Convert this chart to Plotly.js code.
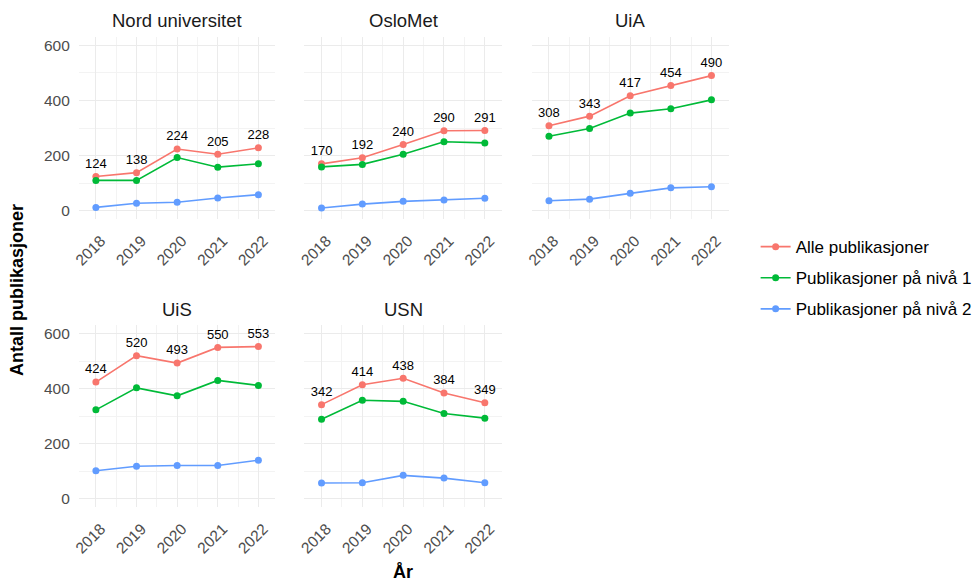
<!DOCTYPE html>
<html>
<head>
<meta charset="utf-8">
<script src="https://cdn.plot.ly/plotly-3.0.1.min.js"></script>
<style>html,body{margin:0;padding:0;background:#fff;}#chart{width:977px;height:583px;}</style>
</head>
<body>
<div id="chart"></div>
<script>
const years = [2018, 2019, 2020, 2021, 2022];
const institutions = ['Nord universitet', 'OsloMet', 'UiA', 'UiS', 'USN'];
const seriesNames = ['Alle publikasjoner', 'Publikasjoner på nivå 1', 'Publikasjoner på nivå 2'];
const seriesColors = ['#F8766D', '#00BA38', '#619CFF'];
const yTicks = [0, 200, 400, 600];

const nordAlle = [124, 138, 224, 205, 228];
const nordNiva1 = [110, 110, 193, 158, 170];
const nordNiva2 = [12, 27, 31, 46, 58];

const oslometAlle = [170, 192, 240, 290, 291];
const oslometNiva1 = [159, 168, 205, 250, 246];
const oslometNiva2 = [10, 24, 34, 39, 45];

const uiaAlle = [308, 343, 417, 454, 490];
const uiaNiva1 = [270, 298, 354, 370, 402];
const uiaNiva2 = [36, 42, 63, 83, 87];

const uisAlle = [424, 520, 493, 550, 553];
const uisNiva1 = [323, 403, 374, 430, 412];
const uisNiva2 = [102, 118, 121, 121, 140];

const usnAlle = [342, 414, 438, 384, 349];
const usnNiva1 = [289, 358, 354, 310, 293];
const usnNiva2 = [57, 58, 85, 75, 58];

const panelData = [
  [nordAlle, nordNiva1, nordNiva2],
  [oslometAlle, oslometNiva1, oslometNiva2],
  [uiaAlle, uiaNiva1, uiaNiva2],
  [uisAlle, uisNiva1, uisNiva2],
  [usnAlle, usnNiva1, usnNiva2]
];

const W = 977, H = 583;
const colPx = [[79, 276], [305, 503], [533, 730]];
const rowPx = [[37, 219], [325.4, 507]];
const FONT = 'Liberation Sans, Arial, Helvetica, sans-serif';

const traces = [];
const layout = {
  width: W, height: H,
  margin: {l: 0, r: 0, t: 0, b: 0},
  paper_bgcolor: '#ffffff', plot_bgcolor: '#ffffff',
  font: {family: FONT, color: '#4d4d4d'},
  showlegend: true,
  legend: {
    x: 0.775, y: 0.523, xanchor: 'left', yanchor: 'middle',
    font: {family: FONT, size: 17, color: '#000000'},
    tracegroupgap: 6, itemwidth: 30, bgcolor: 'rgba(0,0,0,0)'
  },
  annotations: [],
  shapes: []
};

institutions.forEach((name, i) => {
  const row = Math.floor(i / 3), col = i % 3;
  const sfx = i === 0 ? '' : String(i + 1);
  const xd = [colPx[col][0] / W, colPx[col][1] / W];
  const yd = [1 - rowPx[row][1] / H, 1 - rowPx[row][0] / H];
  layout['xaxis' + sfx] = {
    domain: xd, range: [2017.58, 2022.42], anchor: 'y' + sfx,
    tickmode: 'array', tickvals: years, ticktext: years.map(String),
    tickangle: -45, tickfont: {size: 15.5, color: '#4d4d4d', family: FONT},
    showgrid: true, gridcolor: '#ebebeb', gridwidth: 1,
    minor: {tick0: 2018.5, dtick: 1, showgrid: true, gridcolor: '#f3f3f3', gridwidth: 1},
    zeroline: false, showline: false, ticks: '',
    ticklabelstandoff: 9, ticklabelshift: 5,
    automargin: false, fixedrange: true
  };
  layout['yaxis' + sfx] = {
    domain: yd, range: [-30, 630], anchor: 'x' + sfx,
    tickmode: 'array', tickvals: yTicks, ticktext: yTicks.map(String),
    showticklabels: col === 0,
    tickfont: {size: 15.5, color: '#4d4d4d', family: FONT},
    showgrid: true, gridcolor: '#ebebeb', gridwidth: 1,
    minor: {tick0: 100, dtick: 200, showgrid: true, gridcolor: '#f3f3f3', gridwidth: 1},
    zeroline: false, showline: false, ticks: '', ticklabelstandoff: 8,
    automargin: false, fixedrange: true
  };
  layout.annotations.push({
    text: name, xref: 'paper', yref: 'paper',
    x: (colPx[col][0] + colPx[col][1]) / 2 / W,
    y: 1 - (row === 0 ? 20 : 309) / H,
    xanchor: 'center', yanchor: 'middle', showarrow: false,
    font: {family: FONT, size: 18.5, color: '#1a1a1a'}
  });
  panelData[i].forEach((vals, s) => {
    const t = {
      type: 'scatter', x: years, y: vals,
      xaxis: 'x' + sfx, yaxis: 'y' + sfx,
      name: seriesNames[s], legendgroup: seriesNames[s],
      showlegend: i === 0,
      mode: s === 0 ? 'lines+markers+text' : 'lines+markers',
      line: {color: seriesColors[s], width: 1.6},
      marker: {color: seriesColors[s], size: 7},
      cliponaxis: false, hoverinfo: 'x+y+name'
    };
    if (s === 0) {
      t.text = vals.map(String);
      t.textposition = 'top center';
      t.textfont = {family: FONT, size: 13, color: '#000000'};
    }
    traces.push(t);
  });
});

layout.annotations.push({
  text: '<b>År</b>', xref: 'paper', yref: 'paper',
  x: 404 / W, y: 1 - 572 / H, xanchor: 'center', yanchor: 'middle',
  showarrow: false, font: {family: FONT, size: 18, color: '#000000'}
});
layout.annotations.push({
  text: '<b>Antall publikasjoner</b>', xref: 'paper', yref: 'paper',
  x: 17 / W, y: 1 - 290 / H, xanchor: 'center', yanchor: 'middle', textangle: -90,
  showarrow: false, font: {family: FONT, size: 18, color: '#000000'}
});

Plotly.newPlot('chart', traces, layout, {displayModeBar: false, staticPlot: true});
</script>
</body>
</html>
